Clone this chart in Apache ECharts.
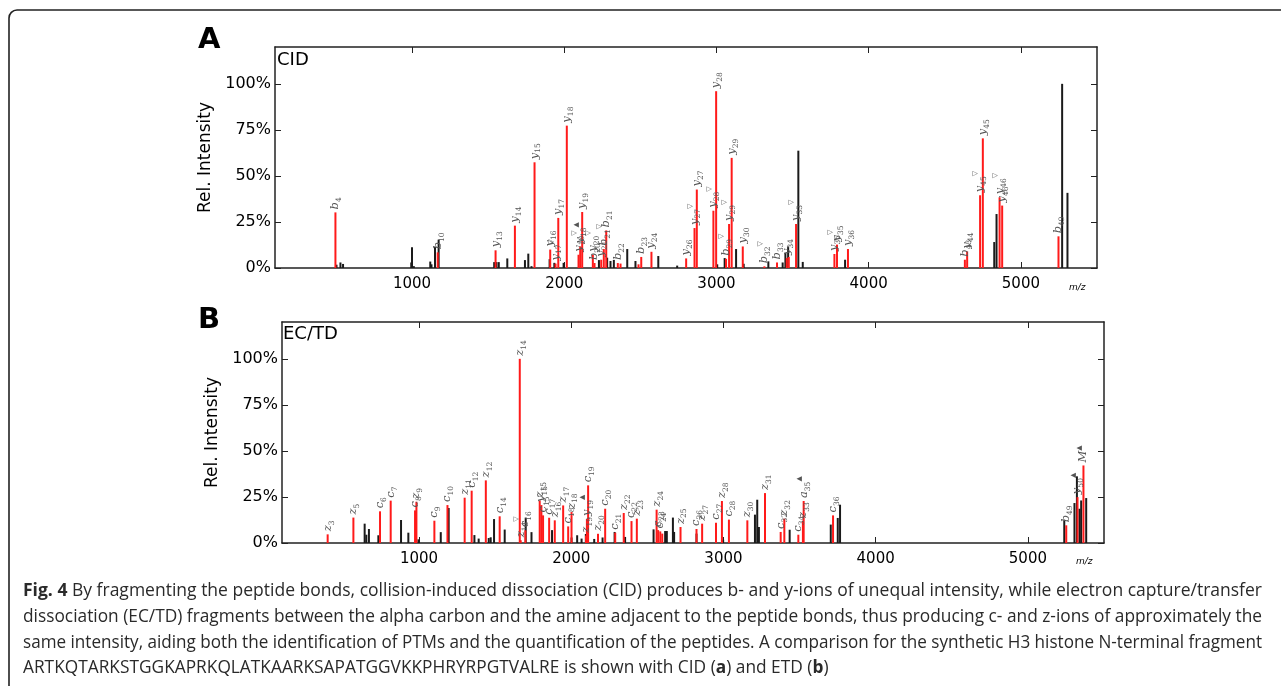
<!DOCTYPE html>
<html><head><meta charset="utf-8">
<script src="https://cdn.jsdelivr.net/npm/echarts@6/dist/echarts.min.js"></script>
<style>html,body{margin:0;padding:0;background:#fff;}#c{width:1281px;height:686px;}</style>
</head><body><div id="c"></div>
<script>
// ---------- data ----------
const xTicks = [1000, 2000, 3000, 4000, 5000];
const yTicks = [0, 25, 50, 75, 100];

// Panel A (CID) — assigned fragment ions (red)
const cidIonMz = [497,1169,1549,1676,1805,1908,1943,1961,2017,2094,2105,2118,2188,2199,2243,2260,2276,2352,2370,2488,2506,2573,2801,2856,2871,2980,2998,3063,3083,3100,3173,3315,3398,3462,3475,3523,3775,3792,3864,4632,4647,4732,4750,4860,4877,5247];
const cidIonInt = [30.2,8.5,9.6,23,57.4,10,2.4,27.2,77.3,7.2,11.7,30.4,7.2,2.7,4.5,10.3,20.4,2.7,2.4,2,6,8.8,5.2,21.7,42.6,31.1,96,5,23.9,59.8,11.7,0.9,3,5.4,6,23.9,7.6,12.7,10.3,4.5,9,39.5,70.4,38.4,33.9,17.2];
const cidIonLabel = ['b_4','b_10','y_13','y_14','y_15','y_16','y_17^▽','y_17','y_18','y_19^▽','y_18^▲','y_19','y_20^▽','b_20','y_21','b_21^▽','b_21','b_22','','','b_23','y_24','y_26','y_27^▽','y_27','y_28^▽','y_28','b_29^▽','y_29^▽','y_29','y_30','b_32^▽','b_33','y_34','','y_33^▽','y_35^▽','y_35','y_36','b_43','y_44','y_45^▽','y_45','y_46^▽','y_46','b_49'];
// Panel A — unassigned peaks (black)
const cidOtherMz = [504,530,547,995,1000,1012,1120,1128,1151,1175,1540,1555,1570,1626,1742,1764,1785,1904,1935,1996,2228,2282,2304,2326,2414,2468,2618,2742,3005,3054,3129,3179,3341,3435,3453,3471,3538,3567,3845,4825,4840,5271,5306];
const cidOtherInt = [1.8,3,2.2,3,11.2,1,3.5,2,11.4,15.4,3.2,3.2,3.2,5.2,4.3,7.8,1,4.8,2.8,2.8,4.3,5.6,3.8,4.4,10.3,3.8,6.5,1.3,2,5.4,10.3,2.3,3.6,3,8.1,11.7,63.7,3.3,4.5,14.1,29.3,100,40.8];

// Panel B (EC/TD) — assigned fragment ions (red)
const etdIonMz = [400,569,744,814,974,983,1101,1187,1300,1346,1439,1530,1662,1668,1699,1793,1804,1815,1855,1892,1947,1980,2002,2097,2103,2111,2176,2223,2289,2345,2396,2431,2561,2571,2585,2598,2718,2823,2860,2951,2990,3036,3157,3273,3376,3400,3492,3522,3527,3720,5252,5326,5365];
const etdIonInt = [4.7,13.8,17.2,23,17.7,22.4,12.1,20.6,24.6,28.4,34,14.5,100,1.5,6.9,23.1,20.6,15,13.7,12.3,20.4,9,16.8,4,13,31.3,5,18.6,5.6,16.3,11.9,13.2,18.1,7,6.3,5.1,8.7,7.6,10.5,11,22.8,12.7,12.3,27.1,6,13.2,4.5,12,22.8,15,9.6,24.9,42.1];
const etdIonLabel = ['z_3','z_5','c_6','c_7','c_8','z_9','c_9','c_10','z_11','c_12','z_12','c_14','z_14','z_14^▽','c_16','z_15','y_15','c_15','c_17','z_16','z_17','c_18','z_18','z_19','y_19^▲','c_19','z_20','c_20','c_21','z_22','c_22','z_23','z_24','c_23','c_24','','z_25','c_26','z_27','c_27','z_28','c_28','z_30','z_31','c_32','z_32','c_34','z_33','a_35^▲','c_36','b_49','y_50^▲','M^▲'];
// Panel B — unassigned peaks (black)
const etdOtherMz = [643,654,671,733,882,930,996,1143,1195,1364,1392,1458,1471,1493,1563,1701,1739,1874,2002,2039,2068,2096,2151,2206,2285,2354,2541,2617,2628,2668,2676,2823,2998,3207,3222,3233,3435,3705,3751,3766,5239,5306,5322,5339,5350,5383];
const etdOtherInt = [10.5,4.5,7.6,4.2,12.5,5.6,2,5.9,19,4.3,2.4,2.7,3.1,13,7.3,13.8,5.9,7,3,4.2,2.4,4.9,2.2,3,6,3.3,7.4,6.5,6.5,13.8,6,5.1,1.8,15.4,23.5,8.7,7.2,10,13.6,20.8,12.3,21.7,36.2,18.6,23.1,24.4];

const captionLines = [
  '{b|Fig. 4} By fragmenting the peptide bonds, collision-induced dissociation (CID) produces b- and y-ions of unequal intensity, while electron capture/transfer',
  'dissociation (EC/TD) fragments between the alpha carbon and the amine adjacent to the peptide bonds, thus producing c- and z-ions of approximately the',
  'same intensity, aiding both the identification of PTMs and the quantification of the peptides. A comparison for the synthetic H3 histone N-terminal fragment',
  'ARTKQTARKSTGGKAPRKQLATKAARKSAPATGGVKKPHRYRPGTVALRE is shown with CID ({b|a}) and ETD ({b|b})'
];

// ---------- chart ----------
const SANS = 'DejaVu Sans';
const CAP_FONT = '18px "Open Sans", sans-serif';
const CAP_BOLD = 'bold 18px "Open Sans", sans-serif';

function richLabel(s) {
  if (!s) return '';
  const m = s.match(/^([A-Za-z]+)(?:_(\d+))?(?:\^(.+))?$/);
  if (!m) return s;
  let out = '{i|' + m[1] + '}';
  if (m[2]) out += '{s|' + m[2] + '}';
  if (m[3]) out += '{p|' + m[3] + '}';
  return out;
}
const labelRich = {
  i: {fontFamily: 'DejaVu Serif', fontStyle: 'italic', fontSize: 11.5, color: '#555', lineHeight: 16, verticalAlign: 'middle'},
  s: {fontFamily: 'DejaVu Serif', fontSize: 7.5, color: '#555', lineHeight: 16, verticalAlign: 'bottom'},
  p: {fontFamily: 'DejaVu Sans', fontSize: 7, color: '#555', lineHeight: 16, verticalAlign: 'top'}
};

// measure caption lines so that justified lines span the same width as in the figure
const mctx = document.createElement('canvas').getContext('2d');
function measureRich(t) {
  let w = 0;
  t.split(/(\{b\|[^}]*\})/).forEach(seg => {
    if (!seg) return;
    const mb = seg.match(/^\{b\|([^}]*)\}$/);
    mctx.font = mb ? CAP_BOLD : CAP_FONT;
    w += mctx.measureText(mb ? mb[1] : seg).width;
  });
  return w;
}
const capTargetW = 1239;
const capScales = captionLines.slice(0, 3).map(t => capTargetW / measureRich(t));
const capAvg = capScales.reduce((a, b) => a + b, 0) / capScales.length;

function xAxes(gi) {
  const line = {show: true, onZero: false, lineStyle: {color: '#222', width: 1.5}};
  return [
    {type: 'value', gridIndex: gi, min: 100, max: 5500, position: 'bottom', axisLine: line,
     axisTick: {show: true, inside: true, length: 6, customValues: xTicks, lineStyle: {color: '#222'}},
     axisLabel: {customValues: xTicks, fontSize: 15, fontFamily: SANS, color: '#000', margin: 9, formatter: v => String(v)},
     splitLine: {show: false}},
    {type: 'value', gridIndex: gi, min: 100, max: 5500, position: 'top', axisLine: line,
     axisTick: {show: true, inside: true, length: 6, customValues: xTicks, lineStyle: {color: '#222'}},
     axisLabel: {show: false}, splitLine: {show: false}}
  ];
}
function yAxes(gi) {
  const line = {show: true, onZero: false, lineStyle: {color: '#222', width: 1.5}};
  return [
    {type: 'value', gridIndex: gi, min: 0, max: 120, position: 'left', axisLine: line,
     name: 'Rel. Intensity', nameLocation: 'middle', nameGap: 54,
     nameTextStyle: {fontSize: 17, fontFamily: SANS, color: '#000'},
     axisTick: {show: true, inside: true, length: 6, customValues: yTicks, lineStyle: {color: '#222'}},
     axisLabel: {customValues: yTicks, fontSize: 16, fontFamily: SANS, color: '#000', margin: 4, formatter: v => v + '%'},
     splitLine: {show: false}},
    {type: 'value', gridIndex: gi, min: 0, max: 120, position: 'right', axisLine: line,
     axisTick: {show: true, inside: true, length: 6, customValues: yTicks, lineStyle: {color: '#222'}},
     axisLabel: {show: false}, splitLine: {show: false}}
  ];
}
function barSeries(xi, yi, mz, inten, color, labels) {
  return {
    type: 'bar', xAxisIndex: xi, yAxisIndex: yi, barWidth: 2, barGap: '-100%', animation: false,
    itemStyle: {color: color},
    data: mz.map((m, k) => ({name: labels ? labels[k] : '', value: [m, inten[k]]})),
    label: labels ? {
      show: true, position: 'top', rotate: 90, align: 'left', verticalAlign: 'middle', distance: 3,
      formatter: p => richLabel(p.name), rich: labelRich
    } : {show: false},
    emphasis: {disabled: true}
  };
}

const chart = echarts.init(document.getElementById('c'), null, {renderer: 'canvas'});
chart.setOption({
  animation: false,
  backgroundColor: '#fff',
  grid: [
    {left: 275, top: 47, width: 822, height: 221},
    {left: 282, top: 322, width: 822, height: 221}
  ],
  xAxis: [...xAxes(0), ...xAxes(1)],
  yAxis: [...yAxes(0), ...yAxes(1)],
  series: [
    barSeries(0, 0, cidOtherMz, cidOtherInt, '#1a1a1a', null),
    barSeries(0, 0, cidIonMz, cidIonInt, '#ff1a1a', cidIonLabel),
    barSeries(2, 2, etdOtherMz, etdOtherInt, '#1a1a1a', null),
    barSeries(2, 2, etdIonMz, etdIonInt, '#ff1a1a', etdIonLabel)
  ],
  graphic: [
    {type: 'rect', silent: true, shape: {x: 9, y: 10, width: 1400, height: 800, r: 8},
     style: {fill: 'none', stroke: '#222', lineWidth: 1.6}},
    {type: 'text', left: 198, top: 26, style: {text: 'A', font: 'bold 29px "DejaVu Sans"', fill: '#000'}},
    {type: 'text', left: 198, top: 306, style: {text: 'B', font: 'bold 29px "DejaVu Sans"', fill: '#000'}},
    {type: 'text', left: 277, top: 51, style: {text: 'CID', font: '18px "DejaVu Sans"', fill: '#000'}},
    {type: 'text', left: 283, top: 325, style: {text: 'EC/TD', font: '18px "DejaVu Sans"', fill: '#000'}},
    {type: 'text', left: 1069, top: 283, style: {text: 'm/z', font: 'italic 9px "DejaVu Sans"', fill: '#000'}},
    {type: 'text', left: 1076, top: 557, style: {text: 'm/z', font: 'italic 9px "DejaVu Sans"', fill: '#000'}},
    ...captionLines.map((t, k) => ({
      type: 'text', x: 23, y: 591 + k * 25.7, scaleX: k < 3 ? capScales[k] : capAvg,
      style: {text: t, font: CAP_FONT, fill: '#2a2a2a', verticalAlign: 'middle',
        rich: {b: {font: CAP_BOLD, fill: '#2a2a2a'}}}
    }))
  ]
});
</script></body></html>
